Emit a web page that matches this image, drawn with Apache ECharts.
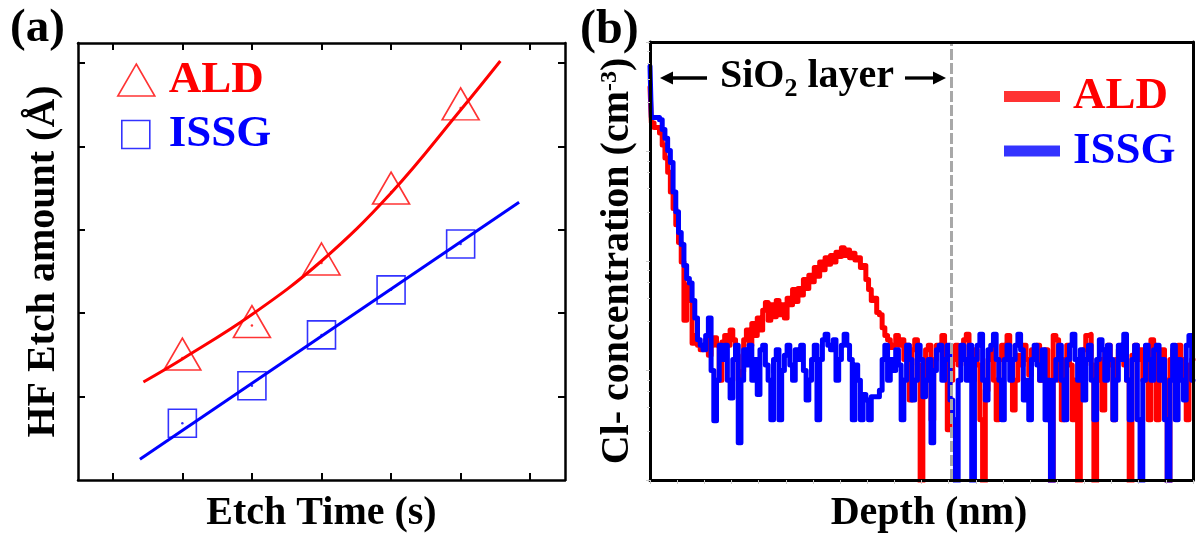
<!DOCTYPE html>
<html>
<head>
<meta charset="utf-8">
<script src="https://cdn.jsdelivr.net/npm/echarts@6/dist/echarts.min.js"></script>
<style>
  html, body { margin: 0; padding: 0; background: #fff; }
  #chart { width: 1196px; height: 540px; }
</style>
</head>
<body>
<div id="chart"></div>
<script>
// ---------- (a) HF etch amount versus etch time ----------
const etchTime = [1, 2, 3, 4, 5];
const aldEtch  = [1.51, 1.90, 2.65, 3.50, 4.51];
const issgEtch = [0.68, 1.13, 1.74, 2.28, 2.83];
// fitted curves, sampled along the drawn fits
const aldFit  = [[0.44, 1.175], [1, 1.451], [2, 1.984], [3, 2.626], [4, 3.441], [5, 4.436], [5.57, 5.024]];
const issgFit = [[0.39, 0.25], [5.84, 3.33]];
const timeTicks = [0, 1, 2, 3, 4, 5, 6];
const etchTicks = [1, 2, 3, 4, 5];

// ---------- (b) Cl depth profiles (log10 of concentration, cm^-3) ----------
const depthStep = 0.1; // nm between profile samples
const aldLogCl = [
  19.59, 19.26, 19.22, 19.22, 19.17, 19.06, 18.94, 18.81, 18.63, 18.48,
  18.33, 18.17, 17.99, 17.46, 17.78, 17.64, 17.25, 17.32, 17.23, 17.19,
  17.23, 17.28, 17.14, 17.23, 17.30, 17.23, 16.91, 17.26, 17.32, 17.23,
  17.37, 17.28, 17.14, 16.91, 16.99, 17.28, 17.37, 17.23, 17.43, 17.32,
  17.48, 17.37, 17.55, 17.62, 17.46, 17.60, 17.49, 17.64, 17.51, 17.60,
  17.48, 17.66, 17.60, 17.74, 17.63, 17.75, 17.69, 17.83, 17.75, 17.87,
  17.81, 17.94, 17.86, 17.99, 17.92, 18.03, 17.97, 18.05, 17.99, 18.08,
  18.04, 18.12, 18.05, 18.10, 18.03, 18.07, 18.01, 18.03, 17.94, 17.96,
  17.83, 17.74, 17.64, 17.66, 17.53, 17.51, 17.39, 17.32, 17.28, 17.21,
  17.23, 17.32, 17.23, 17.28, 17.10, 17.23, 16.73, 17.19, 17.28, 17.05,
  15.50, 16.91, 17.19, 17.23, 16.55, 17.10, 17.23, 17.19, 17.32, 17.10,
  16.46, 16.91, 17.10, 17.23, 17.05, 17.19, 17.28, 17.33, 17.10, 16.91,
  17.19, 17.05, 16.55, 15.50, 16.82, 17.10, 17.19, 16.91, 16.55, 17.10,
  17.23, 17.14, 17.32, 17.10, 16.64, 16.91, 17.14, 17.05, 17.23, 17.10,
  16.96, 17.19, 17.10, 17.23, 16.91, 17.05, 17.19, 16.55, 15.50, 17.32,
  17.28, 16.91, 16.55, 17.10, 17.23, 17.05, 16.55, 16.91, 15.50, 17.10,
  17.19, 17.32, 17.33, 17.05, 15.50, 16.91, 17.10, 16.64, 17.19, 17.23,
  17.05, 16.55, 17.10, 17.19, 17.23, 17.05, 16.91, 15.50, 17.14, 17.23,
  17.10, 17.19, 16.91, 17.10, 16.55, 17.28, 17.23, 16.55, 17.05, 17.19,
  16.91, 15.50, 17.10, 17.19, 17.05, 17.23, 17.10, 16.91, 16.55, 17.05,
  17.10
];
const issgLogCl = [
  19.78, 19.31, 19.31, 19.31, 19.29, 19.20, 19.12, 19.01, 18.90, 18.63,
  18.45, 18.26, 18.15, 17.96, 17.84, 17.80, 17.64, 17.48, 17.28, 17.23,
  17.19, 17.32, 17.48, 17.00, 16.54, 16.91, 17.23, 17.10, 17.23, 16.91,
  16.75, 17.10, 17.23, 16.34, 16.91, 17.19, 17.05, 17.23, 16.91, 17.10,
  16.78, 17.19, 17.23, 17.05, 16.91, 16.55, 17.10, 17.19, 16.55, 17.00,
  17.14, 17.23, 17.05, 16.91, 17.19, 17.10, 17.23, 17.00, 16.73, 16.91,
  17.10, 17.23, 16.55, 17.10, 17.28, 17.33, 17.23, 17.19, 17.28, 16.91,
  17.10, 17.23, 17.33, 17.23, 17.10, 16.55, 17.05, 16.91, 16.55, 16.78,
  16.73, 16.55, 16.76, 16.76, 16.76, 16.82, 17.10, 17.23, 16.91, 17.10,
  17.00, 17.19, 17.05, 16.55, 16.91, 17.23, 17.10, 16.73, 16.91, 17.23,
  17.10, 16.76, 16.91, 17.10, 16.34, 17.00, 17.19, 17.23, 16.91, 17.10,
  17.23, 16.73, 16.55, 15.50, 16.91, 17.23, 17.10, 16.91, 17.23, 15.50,
  17.10, 17.23, 17.33, 16.91, 16.73, 17.19, 17.23, 17.33, 17.10, 16.91,
  16.55, 17.10, 17.23, 16.91, 17.10, 17.23, 17.33, 17.19, 16.73, 16.91,
  16.55, 17.10, 17.23, 17.05, 16.91, 17.19, 16.55, 16.91, 15.50, 16.91,
  17.10, 17.23, 16.91, 16.55, 17.10, 17.23, 17.33, 17.10, 16.91, 17.19,
  16.73, 17.10, 17.23, 16.91, 16.55, 17.10, 17.28, 17.19, 16.91, 17.23,
  17.10, 16.55, 16.91, 17.23, 17.10, 17.33, 16.91, 16.55, 17.10, 17.23,
  16.55, 15.50, 16.91, 17.23, 17.10, 16.91, 17.19, 17.23, 16.91, 17.10,
  16.55, 15.50, 16.91, 17.23, 16.55, 17.10, 16.91, 16.73, 17.23, 17.32,
  16.91
];
const sio2Depth = 11.1; // nm, oxide / substrate boundary

// ---------- helpers ----------
const SERIF = '"Liberation Serif", "Times New Roman", serif';
const RED = '#ff0000';
const BLUE = '#0000ff';
const depth = aldLogCl.map((_, i) => +(i * depthStep).toFixed(2));
const profile = logs => logs.map((v, i) => [depth[i], Math.pow(10, v)]);
const pairs = (xs, ys) => xs.map((x, i) => [x, ys[i]]);

const titleFont = { fontFamily: SERIF, fontWeight: 'bold', fontSize: 40, color: '#000' };
const frameA = { show: true, onZero: false, lineStyle: { color: '#000', width: 2.5 } };
const frameB = { show: true, onZero: false, lineStyle: { color: '#000', width: 3 } };
const noLabel = { show: false };
const noSplit = { show: false };
const tickA = vals => ({ show: true, inside: true, length: 7, customValues: vals, lineStyle: { color: '#000', width: 2 } });
const faintTick = { show: true, inside: false, length: 4, lineStyle: { color: '#c8c8c8', width: 1 } };

const legendText = (color, pad) => ({
  fontFamily: SERIF, fontWeight: 'bold', fontSize: 45, lineHeight: 45, color: color, padding: [0, 0, 0, pad]
});

const chart = echarts.init(document.getElementById('chart'), null, { renderer: 'canvas' });

const option = {
  animation: false,
  backgroundColor: '#fff',
  grid: [
    { left: 78, top: 43, width: 487, height: 437 },
    { left: 650, top: 42, width: 543, height: 438 }
  ],
  xAxis: [
    { gridIndex: 0, type: 'value', min: -0.5, max: 6.5, position: 'bottom',
      axisLine: frameA, axisTick: tickA(timeTicks), axisLabel: noLabel, splitLine: noSplit,
      name: 'Etch Time (s)', nameLocation: 'middle', nameGap: 14, nameTextStyle: titleFont },
    { gridIndex: 0, type: 'value', min: -0.5, max: 6.5, position: 'top',
      axisLine: frameA, axisTick: tickA(timeTicks), axisLabel: noLabel, splitLine: noSplit },
    { gridIndex: 1, type: 'value', min: 0, max: 20, interval: 1, position: 'bottom', z: 5,
      axisLine: frameB, axisTick: faintTick, axisLabel: noLabel, splitLine: noSplit,
      name: 'Depth (nm)', nameLocation: 'middle', nameGap: 14,
      nameTextStyle: Object.assign({}, titleFont, { padding: [0, 0, 0, 15] }) },
    { gridIndex: 1, type: 'value', min: 0, max: 20, position: 'top', z: 5,
      axisLine: frameB, axisTick: { show: false }, axisLabel: noLabel, splitLine: noSplit }
  ],
  yAxis: [
    { gridIndex: 0, type: 'value', min: 0, max: 5.24, position: 'left',
      axisLine: frameA, axisTick: tickA(etchTicks), axisLabel: noLabel, splitLine: noSplit,
      name: 'HF Etch amount (Å)', nameLocation: 'middle', nameGap: 14, nameTextStyle: titleFont },
    { gridIndex: 0, type: 'value', min: 0, max: 5.24, position: 'right',
      axisLine: frameA, axisTick: tickA(etchTicks), axisLabel: noLabel, splitLine: noSplit },
    { gridIndex: 1, type: 'log', logBase: 10, min: 1e16, max: 1e20, position: 'left', z: 5,
      axisLine: frameB, axisTick: faintTick,
      minorTick: { show: true, splitNumber: 5, length: 3, lineStyle: { color: '#d0d0d0', width: 1 } },
      axisLabel: noLabel, splitLine: noSplit,
      name: '{t|Cl- concentration (cm}{s|-3}{t|)}', nameLocation: 'middle', nameGap: 12,
      nameTextStyle: {
        rich: {
          t: { fontFamily: SERIF, fontWeight: 'bold', fontSize: 40, lineHeight: 40, verticalAlign: 'top', color: '#000' },
          s: { fontFamily: SERIF, fontWeight: 'bold', fontSize: 24, lineHeight: 24, verticalAlign: 'top', color: '#000' }
        }
      } },
    { gridIndex: 1, type: 'log', logBase: 10, min: 1e16, max: 1e20, position: 'right', z: 5,
      axisLine: frameB, axisTick: { show: false }, axisLabel: noLabel, splitLine: noSplit }
  ],
  legend: [
    { left: 117, top: 57.5, padding: 0, itemGap: 0, selectedMode: false,
      itemWidth: 37, itemHeight: 32,
      data: [{ name: 'ALD', icon: 'triangle',
               itemStyle: { color: 'rgba(0,0,0,0)', borderColor: RED, borderWidth: 1.6 } }],
      textStyle: legendText(RED, 9) },
    { left: 121, top: 112, padding: 0, itemGap: 0, selectedMode: false,
      itemWidth: 28, itemHeight: 28,
      data: [{ name: 'ISSG', icon: 'rect',
               itemStyle: { color: 'rgba(0,0,0,0)', borderColor: BLUE, borderWidth: 1.6 } }],
      textStyle: legendText(BLUE, 14) },
    { left: 1004, top: 74, padding: 0, itemGap: 0, selectedMode: false,
      itemWidth: 56, itemHeight: 11,
      data: [{ name: 'ALD', icon: 'rect', itemStyle: { color: RED, borderWidth: 0 } }],
      textStyle: legendText(RED, 8) },
    { left: 1004, top: 128.5, padding: 0, itemGap: 0, selectedMode: false,
      itemWidth: 56, itemHeight: 11,
      data: [{ name: 'ISSG', icon: 'rect', itemStyle: { color: BLUE, borderWidth: 0 } }],
      textStyle: legendText(BLUE, 8) }
  ],
  series: [
    // (a) fitted curves
    { name: 'ALD fit', type: 'line', xAxisIndex: 0, yAxisIndex: 0, data: aldFit,
      smooth: 0.4, showSymbol: false, lineStyle: { color: RED, width: 3 }, z: 2, silent: true },
    { name: 'ISSG fit', type: 'line', xAxisIndex: 0, yAxisIndex: 0, data: issgFit,
      showSymbol: false, lineStyle: { color: BLUE, width: 3 }, z: 2, silent: true },
    // (a) measured points, hollow symbols
    { name: 'ALD', type: 'scatter', xAxisIndex: 0, yAxisIndex: 0, data: pairs(etchTime, aldEtch),
      symbol: 'triangle', symbolSize: [37, 32],
      itemStyle: { color: 'rgba(0,0,0,0)', borderColor: RED, borderWidth: 1.6 }, z: 3 },
    { name: 'ISSG', type: 'scatter', xAxisIndex: 0, yAxisIndex: 0, data: pairs(etchTime, issgEtch),
      symbol: 'rect', symbolSize: 28,
      itemStyle: { color: 'rgba(0,0,0,0)', borderColor: BLUE, borderWidth: 1.6 }, z: 3 },
    // centre dots of the symbols
    { name: 'ALD dot', type: 'scatter', xAxisIndex: 0, yAxisIndex: 0, data: pairs(etchTime, aldEtch),
      symbol: 'circle', symbolSize: 2.5, symbolOffset: [0, 4], itemStyle: { color: RED }, z: 3, silent: true },
    { name: 'ISSG dot', type: 'scatter', xAxisIndex: 0, yAxisIndex: 0, data: pairs(etchTime, issgEtch),
      symbol: 'circle', symbolSize: 2.5, itemStyle: { color: BLUE }, z: 3, silent: true },
    // (b) depth profiles, drawn as steps between samples
    { name: 'ALD', type: 'line', xAxisIndex: 2, yAxisIndex: 2, data: profile(aldLogCl),
      step: 'middle', showSymbol: false, clip: true,
      lineStyle: { color: RED, width: 5, join: 'round', cap: 'round' }, z: 2 },
    { name: 'ISSG', type: 'line', xAxisIndex: 2, yAxisIndex: 2, data: profile(issgLogCl),
      step: 'middle', showSymbol: false, clip: true,
      lineStyle: { color: BLUE, width: 5, join: 'round', cap: 'round' }, z: 2,
      markLine: {
        silent: true, symbol: ['none', 'none'], label: { show: false },
        lineStyle: { color: '#a8a8a8', type: [11, 3], width: 3 },
        data: [{ xAxis: sio2Depth }]
      } }
  ],
  graphic: [
    { type: 'text', x: 10, y: 28.5,
      style: { text: '(a)', font: 'bold 47px ' + SERIF, fill: '#000',
               textAlign: 'left', textVerticalAlign: 'middle', align: 'left', verticalAlign: 'middle' } },
    { type: 'text', x: 580, y: 30.5,
      style: { text: '(b)', font: 'bold 48px ' + SERIF, fill: '#000',
               textAlign: 'left', textVerticalAlign: 'middle', align: 'left', verticalAlign: 'middle' } },
    // layer annotation with arrows
    { type: 'text', x: 720, y: 56.5,
      style: {
        text: '{m|SiO}{d|2}{m| layer}', fill: '#000',
        textVerticalAlign: 'top', verticalAlign: 'top',
        rich: {
          m: { fontFamily: SERIF, fontWeight: 'bold', fontSize: 40, lineHeight: 40, verticalAlign: 'top' },
          d: { fontFamily: SERIF, fontWeight: 'bold', fontSize: 26, lineHeight: 26, padding: [20, 0, 0, 0], verticalAlign: 'top' }
        }
      } },
    { type: 'line', shape: { x1: 671, y1: 78, x2: 707, y2: 78 }, style: { stroke: '#000', lineWidth: 3.3 } },
    { type: 'polygon', shape: { points: [[660, 78], [673, 71.5], [673, 84.5]] }, style: { fill: '#000' } },
    { type: 'line', shape: { x1: 905, y1: 78, x2: 935, y2: 78 }, style: { stroke: '#000', lineWidth: 3.3 } },
    { type: 'polygon', shape: { points: [[946, 78], [933, 71.5], [933, 84.5]] }, style: { fill: '#000' } }
  ]
};

chart.setOption(option);
</script>
</body>
</html>
